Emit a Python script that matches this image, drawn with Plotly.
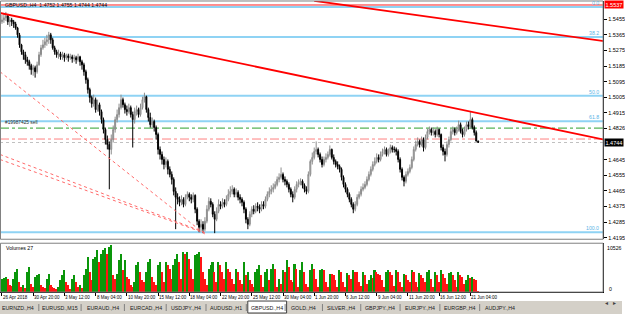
import plotly.graph_objects as go

# ------------------------------------------------------------------ data
first_open = 1.5440
closes = [
    1.5451, 1.5463, 1.5474, 1.5440, 1.5451, 1.5440, 1.5428, 1.5405, 1.5365, 1.5307,
    1.5267, 1.5250, 1.5221, 1.5210, 1.5187, 1.5164, 1.5175, 1.5152, 1.5192, 1.5250,
    1.5290, 1.5307, 1.5325, 1.5336, 1.5365, 1.5336, 1.5290, 1.5267, 1.5250, 1.5256,
    1.5238, 1.5250, 1.5233, 1.5244, 1.5233, 1.5238, 1.5227, 1.5233, 1.5221, 1.5238,
    1.5210, 1.5192, 1.5152, 1.5106, 1.5049, 1.5003, 1.4968, 1.4991, 1.4934, 1.4962,
    1.4922, 1.4876, 1.4819, 1.4761, 1.4732, 1.4704, 1.4761, 1.4819, 1.4876, 1.4905,
    1.4945, 1.4991, 1.4962, 1.4934, 1.4922, 1.4945, 1.4905, 1.4876, 1.4922, 1.4934,
    1.4905, 1.4945, 1.4991, 1.5008, 1.4934, 1.4888, 1.4847, 1.4865, 1.4830, 1.4790,
    1.4704, 1.4675, 1.4646, 1.4617, 1.4635, 1.4589, 1.4560, 1.4531, 1.4462, 1.4428,
    1.4416, 1.4399, 1.4416, 1.4387, 1.4428, 1.4445, 1.4428, 1.4416, 1.4439, 1.4359,
    1.4290, 1.4255, 1.4272, 1.4244, 1.4290, 1.4359, 1.4405, 1.4387, 1.4330, 1.4301,
    1.4347, 1.4387, 1.4376, 1.4399, 1.4387, 1.4416, 1.4445, 1.4462, 1.4474, 1.4445,
    1.4456, 1.4428, 1.4416, 1.4399, 1.4359, 1.4301, 1.4272, 1.4330, 1.4359, 1.4347,
    1.4376, 1.4370, 1.4359, 1.4387, 1.4376, 1.4416, 1.4445, 1.4462, 1.4474, 1.4485,
    1.4502, 1.4531, 1.4543, 1.4560, 1.4531, 1.4520, 1.4502, 1.4474, 1.4445, 1.4428,
    1.4474, 1.4502, 1.4514, 1.4520, 1.4497, 1.4474, 1.4462, 1.4560, 1.4635, 1.4658,
    1.4692, 1.4704, 1.4675, 1.4646, 1.4617, 1.4646, 1.4658, 1.4675, 1.4704, 1.4658,
    1.4635, 1.4617, 1.4606, 1.4589, 1.4543, 1.4502, 1.4474, 1.4445, 1.4416, 1.4387,
    1.4359, 1.4387, 1.4428, 1.4445, 1.4474, 1.4485, 1.4502, 1.4531, 1.4560, 1.4589,
    1.4617, 1.4635, 1.4658, 1.4646, 1.4675, 1.4692, 1.4704, 1.4675, 1.4692, 1.4715,
    1.4704, 1.4704, 1.4692, 1.4646, 1.4589, 1.4543, 1.4520, 1.4560, 1.4577, 1.4600,
    1.4646, 1.4704, 1.4732, 1.4750, 1.4732, 1.4761, 1.4715, 1.4773, 1.4807, 1.4819,
    1.4801, 1.4807, 1.4790, 1.4819, 1.4790, 1.4715, 1.4692, 1.4675, 1.4732, 1.4761,
    1.4807, 1.4819, 1.4801, 1.4819, 1.4847, 1.4807, 1.4790, 1.4819, 1.4847, 1.4836,
    1.4876, 1.4830, 1.4801, 1.4752, 1.4744,
]
highs = [
    1.5480, 1.5491, 1.5497, 1.5480, 1.5468, 1.5463, 1.5451, 1.5440, 1.5411, 1.5376,
    1.5313, 1.5279, 1.5267, 1.5238, 1.5221, 1.5198, 1.5192, 1.5187, 1.5210, 1.5267,
    1.5307, 1.5336, 1.5348, 1.5365, 1.5382, 1.5376, 1.5348, 1.5302, 1.5279, 1.5279,
    1.5267, 1.5267, 1.5261, 1.5256, 1.5256, 1.5256, 1.5250, 1.5250, 1.5244, 1.5256,
    1.5244, 1.5221, 1.5204, 1.5164, 1.5118, 1.5060, 1.5014, 1.5020, 1.5003, 1.4991,
    1.4974, 1.4934, 1.4888, 1.4830, 1.4784, 1.4750, 1.4790, 1.4842, 1.4893, 1.4934,
    1.4968, 1.5020, 1.5003, 1.4974, 1.4957, 1.4968, 1.4957, 1.4922, 1.4945, 1.4957,
    1.4945, 1.4968, 1.5008, 1.5031, 1.5014, 1.4945, 1.4916, 1.4888, 1.4876, 1.4842,
    1.4801, 1.4721, 1.4692, 1.4663, 1.4658, 1.4646, 1.4606, 1.4577, 1.4543, 1.4485,
    1.4451, 1.4433, 1.4439, 1.4428, 1.4445, 1.4462, 1.4456, 1.4445, 1.4456, 1.4445,
    1.4370, 1.4301, 1.4301, 1.4290, 1.4313, 1.4382, 1.4428, 1.4422, 1.4399, 1.4347,
    1.4370, 1.4416, 1.4405, 1.4422, 1.4416, 1.4439, 1.4474, 1.4491, 1.4497, 1.4485,
    1.4479, 1.4468, 1.4445, 1.4428, 1.4410, 1.4370, 1.4313, 1.4347, 1.4376, 1.4382,
    1.4393, 1.4399, 1.4387, 1.4405, 1.4405, 1.4433, 1.4462, 1.4485, 1.4497, 1.4508,
    1.4520, 1.4548, 1.4566, 1.4600, 1.4571, 1.4548, 1.4531, 1.4514, 1.4485, 1.4462,
    1.4491, 1.4520, 1.4531, 1.4537, 1.4531, 1.4508, 1.4491, 1.4577, 1.4646, 1.4686,
    1.4715, 1.4750, 1.4715, 1.4686, 1.4663, 1.4663, 1.4681, 1.4692, 1.4727, 1.4709,
    1.4675, 1.4646, 1.4635, 1.4617, 1.4600, 1.4554, 1.4514, 1.4485, 1.4456, 1.4428,
    1.4399, 1.4405, 1.4445, 1.4462, 1.4491, 1.4508, 1.4520, 1.4548, 1.4577, 1.4606,
    1.4635, 1.4658, 1.4681, 1.4675, 1.4692, 1.4709, 1.4721, 1.4715, 1.4709, 1.4732,
    1.4727, 1.4721, 1.4715, 1.4704, 1.4658, 1.4600, 1.4554, 1.4577, 1.4594, 1.4617,
    1.4663, 1.4721, 1.4755, 1.4773, 1.4761, 1.4778, 1.4773, 1.4790, 1.4824, 1.4836,
    1.4830, 1.4830, 1.4819, 1.4836, 1.4824, 1.4796, 1.4732, 1.4709, 1.4750, 1.4778,
    1.4824, 1.4836, 1.4830, 1.4836, 1.4870, 1.4859, 1.4824, 1.4836, 1.4865, 1.4865,
    1.4922, 1.4888, 1.4842, 1.4813, 1.4755,
]
lows = [
    1.5428, 1.5434, 1.5445, 1.5422, 1.5411, 1.5416, 1.5405, 1.5394, 1.5348, 1.5290,
    1.5250, 1.5221, 1.5198, 1.5187, 1.5164, 1.5135, 1.5129, 1.5118, 1.5141, 1.5187,
    1.5238, 1.5279, 1.5290, 1.5302, 1.5313, 1.5313, 1.5279, 1.5250, 1.5233, 1.5227,
    1.5221, 1.5221, 1.5210, 1.5221, 1.5210, 1.5221, 1.5204, 1.5210, 1.5198, 1.5210,
    1.5187, 1.5164, 1.5129, 1.5083, 1.5026, 1.4974, 1.4945, 1.4951, 1.4916, 1.4922,
    1.4899, 1.4853, 1.4796, 1.4732, 1.4704, 1.4474, 1.4675, 1.4744, 1.4801, 1.4859,
    1.4888, 1.4934, 1.4945, 1.4911, 1.4899, 1.4911, 1.4888, 1.4715, 1.4853, 1.4899,
    1.4888, 1.4893, 1.4934, 1.4974, 1.4916, 1.4865, 1.4830, 1.4830, 1.4807, 1.4761,
    1.4675, 1.4646, 1.4617, 1.4589, 1.4600, 1.4560, 1.4543, 1.4502, 1.4439, 1.4244,
    1.4387, 1.4376, 1.4382, 1.4370, 1.4376, 1.4416, 1.4405, 1.4393, 1.4399, 1.4336,
    1.4267, 1.4226, 1.4232, 1.4221, 1.4232, 1.4278, 1.4347, 1.4370, 1.4313, 1.4221,
    1.4290, 1.4336, 1.4359, 1.4364, 1.4370, 1.4376, 1.4405, 1.4428, 1.4445, 1.4428,
    1.4428, 1.4410, 1.4393, 1.4376, 1.4336, 1.4278, 1.4244, 1.4261, 1.4313, 1.4330,
    1.4336, 1.4347, 1.4336, 1.4347, 1.4359, 1.4364, 1.4405, 1.4428, 1.4445, 1.4456,
    1.4474, 1.4491, 1.4514, 1.4531, 1.4514, 1.4497, 1.4485, 1.4456, 1.4428, 1.4399,
    1.4416, 1.4456, 1.4485, 1.4497, 1.4479, 1.4456, 1.4445, 1.4451, 1.4548, 1.4617,
    1.4646, 1.4675, 1.4658, 1.4629, 1.4600, 1.4606, 1.4629, 1.4646, 1.4663, 1.4646,
    1.4617, 1.4600, 1.4589, 1.4571, 1.4525, 1.4485, 1.4456, 1.4428, 1.4399, 1.4370,
    1.4336, 1.4347, 1.4376, 1.4416, 1.4433, 1.4462, 1.4474, 1.4491, 1.4520, 1.4548,
    1.4577, 1.4606, 1.4623, 1.4629, 1.4635, 1.4663, 1.4675, 1.4663, 1.4663, 1.4681,
    1.4686, 1.4686, 1.4669, 1.4629, 1.4571, 1.4525, 1.4491, 1.4508, 1.4548, 1.4566,
    1.4589, 1.4635, 1.4692, 1.4721, 1.4715, 1.4721, 1.4692, 1.4704, 1.4761, 1.4790,
    1.4784, 1.4784, 1.4773, 1.4778, 1.4773, 1.4698, 1.4669, 1.4635, 1.4663, 1.4715,
    1.4750, 1.4790, 1.4784, 1.4790, 1.4807, 1.4796, 1.4773, 1.4778, 1.4807, 1.4819,
    1.4824, 1.4819, 1.4784, 1.4750, 1.4744,
]
volumes = [
    2910, 3140, 3360, 2910, 1570, 1340, 2910, 4480, 5150, 2240,
    1120, 1570, 900, 4480, 5600, 1790, 1120, 3360, 3810, 4030,
    1570, 1120, 900, 2910, 4030, 1570, 1120, 900, 670, 1120,
    2690, 3810, 4930, 2240, 1570, 670, 2910, 3810, 2240, 1120,
    1570, 900, 3810, 5150, 7840, 4480, 2690, 7390, 7840, 9410,
    6720, 8510, 9410, 9860, 8510, 10080, 10526, 3810, 2910, 4030,
    7170, 8510, 4930, 7170, 3360, 2910, 1570, 1120, 2240, 6050,
    6720, 4480, 2690, 2240, 4480, 6720, 7390, 3360, 2240, 1570,
    6050, 6720, 4480, 2240, 6720, 6050, 5150, 2910, 6050, 7390,
    8510, 6720, 2910, 8960, 8510, 8960, 7390, 5150, 2910, 8290,
    8510, 8960, 7840, 4480, 2910, 1570, 5150, 6050, 6720, 4480,
    2240, 6720, 6050, 4480, 2910, 6720, 5150, 4480, 2910, 1790,
    5150, 4480, 2690, 1790, 6720, 3810, 4480, 2690, 1790, 1120,
    4480, 5150, 6050, 3810, 1120, 4480, 5150, 2690, 5150, 6270,
    5150, 1120, 2910, 1790, 4930, 4480, 7170, 5600, 2690, 2240,
    6270, 5150, 1120, 4930, 6720, 4480, 1790, 1120, 4930, 6270,
    5150, 2910, 1120, 4930, 5150, 4930, 2240, 1120, 4030, 4030,
    3810, 2690, 1120, 4930, 4480, 2240, 1120, 4260, 3810, 2910,
    4930, 4480, 4480, 2240, 1340, 4480, 3810, 1790, 2690, 3810,
    3140, 4930, 4480, 4030, 3810, 2690, 1120, 4480, 4930, 4480,
    3810, 1340, 4930, 4480, 2240, 1120, 4030, 3810, 2690, 2240,
    4930, 4480, 2240, 1120, 4260, 3810, 3140, 2240, 4480, 4930,
    2910, 1120, 4480, 3810, 2240, 4930, 4030, 3140, 1790, 4260,
    4480, 3810, 2690, 1120, 4480, 3810, 3360, 1790, 2690, 3810,
    3140, 3360, 2910, 2690, 27,
]
bar_index = list(range(len(closes)))
opens = [first_open] + closes[:-1]          # H4 bars open at the prior close

date_ticks = [0, 16, 32, 48, 64, 80, 96, 112, 128, 144, 160, 176, 192, 208, 224, 240]
date_labels = ["26 Apr 2018", "30 Apr 20:00", "3 May 12:00", "8 May 04:00",
               "10 May 20:00", "15 May 12:00", "18 May 04:00", "22 May 20:00",
               "25 May 12:00", "30 May 04:00", "1 Jun 20:00", "6 Jun 12:00",
               "9 Jun 04:00", "11 Jun 20:00", "16 Jun 12:00", "21 Jun 04:00"]
price_ticks = [1.5455, 1.5365, 1.5275, 1.5185, 1.5095, 1.5005, 1.4915, 1.4826,
               1.4645, 1.4555, 1.4465, 1.4375, 1.4285, 1.4195]
volume_scale_max = 10526

fib_prices = [1.5526, 1.5353, 1.5014, 1.4867, 1.4226]
fib_labels = ["0.0", "38.2", "50.0", "61.8", "100.0"]
top_line_price = 1.5537
order_price = 1.4827
order_label = "#19987425 sell"
stop_price = 1.4764
bid_price = 1.4744

trend_main_x, trend_main_y = [-1, 320], [1.5491, 1.4733]
trend_upper_x, trend_upper_y = [160, 320], [1.5561, 1.5310]
fan1_x, fan1_y = [-1, 104], [1.5152, 1.4215]
fan2_x, fan2_y = [-1, 104], [1.4675, 1.4225]
fan3_x, fan3_y = [-1, 104], [1.4646, 1.4221]

tabs = ["EURNZD.,H4", "EURUSD.,M15", "EURAUD.,H4", "EURCAD.,H4", "USDJPY.,H4",
        "AUDUSD.,H1", "GBPUSD.,H4", "GOLD.,H4", "SILVER.,H4", "GBPJPY.,H4",
        "EURJPY.,H4", "EURGBP.,H4", "AUDJPY.,H4"]
active_tab = "GBPUSD.,H4"

# ------------------------------------------------------------------ layout helpers
W, H = 625, 315
def px_x(p):
    return p / W
def px_y(p):
    return 1 - p / H

AXIS_X = 606
PRICE_TOP, PRICE_BOT = 1, 240
VOL_TOP, VOL_BOT = 244, 293
FONT = "Liberation Sans"
GREEN = "#0a960a"
RED = "#ff1414"
FIB = "#8fd3f4"

vol_colors = []
for i, v in enumerate(volumes):
    up = i == 0 or v > volumes[i - 1]
    vol_colors.append(GREEN if up else RED)

fig = go.Figure()

fig.add_trace(go.Bar(
    x=bar_index, y=volumes, marker=dict(color=vol_colors, line=dict(width=0)),
    width=0.8, xaxis="x", yaxis="y2", showlegend=False, hoverinfo="skip"))

for xs, ys in [(fan1_x, fan1_y), (fan2_x, fan2_y), (fan3_x, fan3_y)]:
    fig.add_trace(go.Scatter(x=xs, y=ys, mode="lines", xaxis="x2", yaxis="y",
                             line=dict(color="#ff6a6a", width=1, dash="dot"),
                             showlegend=False, hoverinfo="skip"))

fig.add_trace(go.Candlestick(
    x=bar_index, open=opens, high=highs, low=lows, close=closes,
    xaxis="x2", yaxis="y", whiskerwidth=0,
    increasing=dict(line=dict(color="#8c8c8c", width=1), fillcolor="#c8c8c8"),
    decreasing=dict(line=dict(color="#000000", width=1), fillcolor="#000000"),
    showlegend=False, hoverinfo="skip"))

for xs, ys in [(trend_main_x, trend_main_y), (trend_upper_x, trend_upper_y)]:
    fig.add_trace(go.Scatter(x=xs, y=ys, mode="lines", xaxis="x2", yaxis="y",
                             line=dict(color="#ff0000", width=1.8),
                             showlegend=False, hoverinfo="skip"))

shapes = []
ann = []

def hline(price, color, width, dash="solid"):
    shapes.append(dict(type="line", xref="paper", yref="y", x0=0, x1=px_x(AXIS_X),
                       y0=price, y1=price, line=dict(color=color, width=width, dash=dash),
                       layer="below"))

for p in fib_prices:
    hline(p, FIB, 2)
hline(top_line_price, "#ff2020", 1)
hline(order_price, "#2ca02c", 1, "dashdot")
hline(stop_price, "#ff8080", 1, "dashdot")
hline(bid_price, "#c0c0c0", 1, "dot")

for p, lab in zip(fib_prices, fib_labels):
    ann.append(dict(x=px_x(AXIS_X - 2), y=p, xref="paper", yref="y", text=lab,
                    showarrow=False, xanchor="right", yanchor="bottom", yshift=-1,
                    font=dict(family=FONT, size=5.2, color="#5ab4e6")))

ann.append(dict(x=px_x(3), y=order_price, xref="paper", yref="y", text=order_label,
                showarrow=False, xanchor="left", yanchor="bottom", yshift=1,
                font=dict(family=FONT, size=4.8, color="#303030")))

header = "GBPUSD.,H4  %.4f %.4f %.4f %.4f" % (opens[-1], highs[-1], lows[-1], closes[-1])
ann.append(dict(x=px_x(3), y=px_y(5.5), xref="paper", yref="paper", text=header,
                showarrow=False, xanchor="left", yanchor="middle",
                font=dict(family=FONT, size=5.2, color="#000000")))

for p, bg in [(top_line_price, "#ff0000"), (bid_price, "#000000")]:
    ann.append(dict(x=px_x(AXIS_X + 1), y=p, xref="paper", yref="y",
                    text="%.4f" % p, showarrow=False, xanchor="left", yanchor="middle",
                    bgcolor=bg, borderpad=0.5,
                    font=dict(family=FONT, size=5.5, color="#ffffff")))

ann.append(dict(x=px_x(4), y=px_y(249), xref="paper", yref="paper",
                text="Volumes %d" % volumes[-1], showarrow=False, xanchor="left",
                yanchor="middle", font=dict(family=FONT, size=5.2, color="#000000")))
ann.append(dict(x=px_x(AXIS_X + 2), y=px_y(249), xref="paper", yref="paper",
                text=str(volume_scale_max), showarrow=False, xanchor="left",
                yanchor="middle", font=dict(family=FONT, size=5.2, color="#000000")))
ann.append(dict(x=px_x(AXIS_X + 4), y=px_y(290), xref="paper", yref="paper",
                text="0", showarrow=False, xanchor="left",
                yanchor="middle", font=dict(family=FONT, size=5.2, color="#000000")))

for t, lab in zip(date_ticks, date_labels):
    ann.append(dict(x=t, y=px_y(298), xref="x", yref="paper", text=lab,
                    showarrow=False, xanchor="left", yanchor="middle", xshift=-1,
                    font=dict(family=FONT, size=4.5, color="#000000")))

shapes.append(dict(type="rect", xref="paper", yref="paper",
                   x0=px_x(0.5), x1=px_x(AXIS_X), y0=px_y(PRICE_BOT), y1=px_y(PRICE_TOP),
                   line=dict(color="#808080", width=1)))
shapes.append(dict(type="rect", xref="paper", yref="paper",
                   x0=px_x(0.5), x1=px_x(AXIS_X), y0=px_y(VOL_BOT), y1=px_y(VOL_TOP),
                   line=dict(color="#808080", width=1)))

TAB_TOP = 302
shapes.append(dict(type="rect", xref="paper", yref="paper", x0=0, x1=1,
                   y0=0, y1=px_y(TAB_TOP), fillcolor="#d4d0c8", line=dict(width=0),
                   layer="above"))
tab_centers = [18, 60, 103, 147, 187, 227, 268, 305, 343, 382, 422, 462, 502]
for i, (name, cx) in enumerate(zip(tabs, tab_centers)):
    if name == active_tab:
        shapes.append(dict(type="rect", xref="paper", yref="paper",
                           x0=px_x(cx - 19), x1=px_x(cx + 20), y0=px_y(314), y1=px_y(TAB_TOP),
                           fillcolor="#ffffff", line=dict(color="#404040", width=1),
                           layer="above"))
    ann.append(dict(x=px_x(cx), y=px_y(308.5), xref="paper", yref="paper", text=name,
                    showarrow=False, xanchor="center", yanchor="middle",
                    font=dict(family=FONT, size=5.3, color="#202020")))
    if i + 1 < len(tabs):
        sx = (cx + tab_centers[i + 1]) / 2
        shapes.append(dict(type="line", xref="paper", yref="paper", x0=px_x(sx), x1=px_x(sx),
                           y0=px_y(312), y1=px_y(305), line=dict(color="#808080", width=1),
                           layer="above"))
for sx, sym in [(613, "◂"), (621, "▸")]:
    ann.append(dict(x=px_x(sx), y=px_y(308.5), xref="paper", yref="paper", text=sym,
                    showarrow=False, font=dict(family="DejaVu Sans", size=6, color="#404040")))

fig.update_layout(
    width=W, height=H, autosize=False,
    margin=dict(l=0, r=0, t=0, b=0, pad=0),
    paper_bgcolor="#ffffff", plot_bgcolor="#ffffff",
    showlegend=False, bargap=0,
    xaxis=dict(domain=[0, px_x(AXIS_X)], range=[-1, 308], anchor="y2",
               showgrid=False, zeroline=False, showticklabels=False,
               tickvals=date_ticks, ticks="outside", ticklen=3, tickcolor="#000000",
               showline=True, linecolor="#000000", linewidth=1,
               rangeslider=dict(visible=False), fixedrange=True),
    xaxis2=dict(domain=[0, px_x(AXIS_X)], matches="x", anchor="y",
                showgrid=False, zeroline=False, showticklabels=False, ticks="",
                showline=False, rangeslider=dict(visible=False)),
    yaxis=dict(domain=[px_y(PRICE_BOT), px_y(PRICE_TOP)], range=[1.4186, 1.5560],
               anchor="x2", side="right", showgrid=False, zeroline=False,
               tickvals=price_ticks, ticktext=["%.4f" % v for v in price_ticks],
               ticks="outside", ticklen=3, tickcolor="#000000",
               tickfont=dict(family=FONT, size=5.5, color="#000000"),
               showline=True, linecolor="#000000", linewidth=1),
    yaxis2=dict(domain=[px_y(VOL_BOT), px_y(VOL_TOP)], range=[0, volume_scale_max * 49 / 47],
                anchor="x", side="right", showgrid=False, zeroline=False,
                showticklabels=False, ticks="", showline=True, linecolor="#000000",
                linewidth=1),
    shapes=shapes, annotations=ann,
)

fig.write_html("out.html")
